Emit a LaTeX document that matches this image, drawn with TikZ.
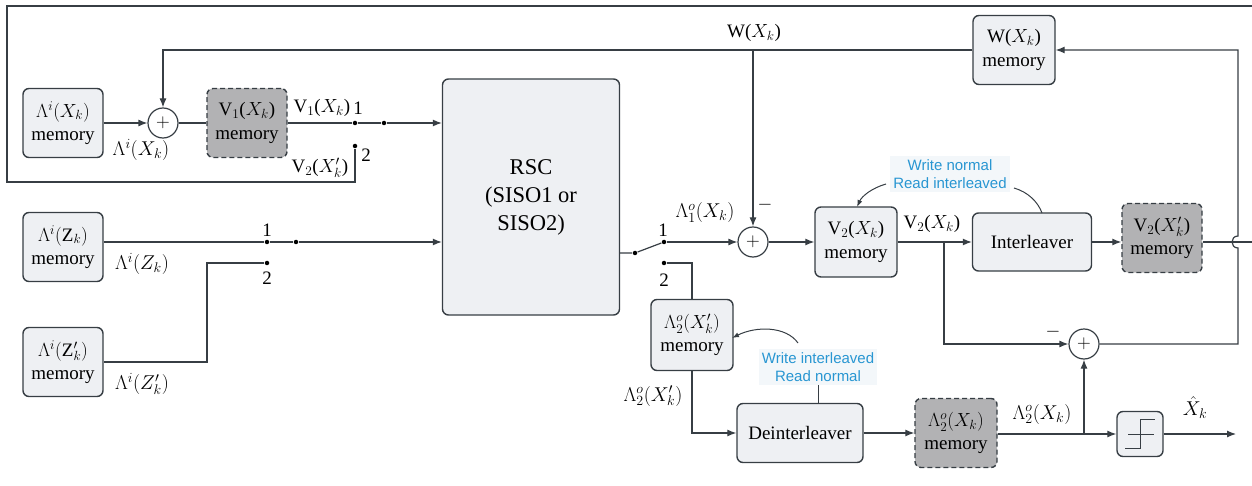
\RequirePackage{fix-cm}
\documentclass[tikz,border=0pt]{standalone}
\usepackage{fontspec}
\setmainfont{Liberation Serif}
\newfontfamily\annfont{Liberation Sans}
\usetikzlibrary{arrows.meta}
\definecolor{bordc}{RGB}{55,62,68}
\definecolor{boxfill}{RGB}{238,240,243}
\definecolor{dfill}{RGB}{178,178,180}
\definecolor{annc}{RGB}{40,150,210}
\definecolor{annbg}{RGB}{243,247,250}
\newcommand{\fsA}{\fontsize{19}{23.5}\selectfont}
\newcommand{\fsL}{\fontsize{20}{24}\selectfont}
\newcommand{\fsB}{\fontsize{22.5}{28}\selectfont}
\newcommand{\fsC}{\fontsize{15}{18}\selectfont}
\begin{document}
\begin{tikzpicture}[x=1pt,y=-1pt, line width=1.2pt, draw=bordc,
  >={Latex[length=9pt,width=7pt]},
  box/.style={draw=bordc, fill=boxfill, rounded corners=6pt, line width=1.4pt, inner sep=0pt, align=center, font=\fsA, minimum width=80pt, minimum height=69pt},
  dbox/.style={box, fill=dfill, dash pattern=on 5pt off 3pt},
  sumnode/.style={circle, draw=bordc, fill=white, line width=1.2pt, minimum size=30pt, inner sep=0pt, font=\fsA},
  dotnode/.style={circle, fill=black, minimum size=4.5pt, inner sep=0pt},
  lbl/.style={font=\fsA, inner sep=0pt},
  mlbl/.style={font=\fsL, inner sep=0pt},
  ann/.style={font=\fsC\annfont, text=annc, fill=annbg, align=center, inner sep=3pt},
  thinline/.style={line width=1pt}]
\useasboundingbox (0,0) rectangle (1252,486);

% nodes
\node[box] (mLX) at (63,123) {$\Lambda^{i}(X_k)$\\memory};
\node[sumnode] (s1) at (163,123) {$+$};
\node[dbox] (mV1) at (247,123) {V$_1$($X_k$)\\memory};
\node[dotnode] (c1a) at (355,123) {};
\node[dotnode] (p1) at (384,123) {};
\node[dotnode] (c1b) at (355,146) {};
\node[box, font=\fsB, minimum width=177pt, minimum height=236pt] (RSC) at (531,197) {RSC\\(SISO1 or\\SISO2)};

\node[box] (mLZ) at (63,247) {$\Lambda^{i}(\mathrm{Z}_k)$\\memory};
\node[dotnode] (c2a) at (267,242) {};
\node[dotnode] (p2) at (296,242) {};
\node[dotnode] (c2b) at (267,263) {};
\node[box] (mLZp) at (63,362) {$\Lambda^{i}(\mathrm{Z}'_k)$\\memory};

\node[dotnode] (p3) at (635,253) {};
\node[dotnode] (c3a) at (664,242) {};
\node[dotnode] (c3b) at (664,263) {};
\node[sumnode] (s2) at (753,242) {$+$};
\node[box, minimum width=82pt, minimum height=70pt] (mV2) at (856,242) {V$_2$($X_k$)\\memory};
\node[box, minimum width=119pt, minimum height=58pt] (inter) at (1032,242) {Interleaver};
\node[dbox] (mV2p) at (1162,238) {V$_2$($X'_k$)\\memory};
\node[box, minimum width=82pt] (mW) at (1014,50) {W($X_k$)\\memory};
\node[sumnode] (s3) at (1084,344) {$+$};

\node[box, minimum width=82pt, minimum height=71pt] (mLo2p) at (692,335) {$\Lambda^{o}_{2}(X'_k)$\\memory};
\node[box, minimum width=126pt, minimum height=59pt] (deint) at (800,433) {Deinterleaver};
\node[dbox, minimum width=82pt] (mLo2) at (956,433) {$\Lambda^{o}_{2}(X_k)$\\memory};
\node[box, minimum width=46pt, minimum height=45pt] (slicer) at (1140,434) {};
\coordinate (xout) at (1236,434);

\node[ann] (ann1) at (950,174) {Write normal\\Read interleaved};
\node[ann] (ann2) at (818,367) {Write interleaved\\Read normal};

% connectors
\draw[->] (mLX.east) -- (s1.west);
\draw (s1.east) -- (mV1.west);
\draw (mV1.east) -- (c1a);
\draw (c1a) -- (p1);
\draw[->] (p1) -- (p1 -| RSC.west);
\draw (mV2p.east |- inter.east) -- (1256,242) -- (1256,6) -- (7,6) -- (7,182) -| (c1b);
\draw[->] (mW.west) -| (s1.north);
\draw[->] (s2 |- mW.west) -- (s2.north);

\draw (mLZ.east |- c2a) -- (c2a);
\draw (c2a) -- (p2);
\draw[->] (p2) -- (p2 -| RSC.west);
\draw (c2b) -- (207,263) |- (mLZp.east);

\draw (RSC.east |- p3) -- (p3) -- (c3a);
\draw[->] (c3a) -- (s2.west);
\draw (c3b) -| (mLo2p.north);
\draw[->] (mLo2p.south) |- (deint.west);
\draw[->] (deint.east) -- (mLo2.west);
\coordinate (bp) at (s3 |- slicer.west);
\draw (mLo2.east |- bp) -- (bp);
\draw[->] (bp) -- (slicer.west);
\draw[->] (bp) -- (s3.south);
\draw[->] (slicer.east) -- (xout);

\draw[->] (s2.east) -- (mV2.west);
\draw[->] (mV2.east) -- (inter.west);
\draw[->] (inter.east) -- (inter.east -| mV2p.west);
\coordinate (bv) at (944,242);
\draw[->] (bv) |- (s3.west);
\draw[->] (s3.east) -- (1238,344) -- (1238,248) .. controls (1230,248) and (1230,236) .. (1238,236) -- (1238,50) -- (mW.east);

% annotation pointers
\draw[thinline,->,>={Latex[length=7pt,width=5pt]}] (886,184) .. controls (872,188) and (862,196) .. (857,207);
\draw[thinline] (1014,188) .. controls (1028,192) and (1038,202) .. (1042,213);
\draw[thinline,->,>={Latex[length=7pt,width=5pt]}] (798,343) .. controls (786,326) and (756,326) .. (732,338);
\draw[thinline] (ann2.south) -- (ann2.south |- deint.north);

% slicer symbol
\draw[thinline, shift={(slicer.center)}] (-12,0) -- (14,0);
\draw[thinline, shift={(slicer.center)}] (-15,14) -- (0,14) -- (0,-15) -- (15,-15);

% labels
\node[lbl] (lW) at (754,33) {W($X_k$)};
\node[lbl] (lV1) at (322,108) {V$_1$($X_k$)};
\node[lbl] (l1a) at (358,108) {1};
\node[lbl] (l1b) at (366,155) {2};
\node[lbl] (lV2p) at (320,168) {V$_2$($X'_k$)};
\node[mlbl] (lLX) at (141,150) {$\Lambda^{i}\bigl(X_k\bigr)$};
\node[mlbl] (lLZ) at (142,264) {$\Lambda^{i}\bigl(Z_k\bigr)$};
\node[lbl] (l2a) at (267,230) {1};
\node[lbl] (l2b) at (267,278) {2};
\node[mlbl] (lLZp) at (142,384) {$\Lambda^{i}\bigl(Z'_k\bigr)$};
\node[lbl] (l3a) at (663,230) {1};
\node[lbl] (l3b) at (664,280) {2};
\node[mlbl] (lLo1) at (705,213) {$\Lambda^{o}_{1}\bigl(X_k\bigr)$};
\node[lbl] (m1) at (765,205) {$-$};
\node[lbl] (lV2) at (932,224) {V$_2$($X_k$)};
\node[lbl] (m2) at (1053,332) {$-$};
\node[mlbl] (lLo2p) at (653,396) {$\Lambda^{o}_{2}\bigl(X'_k\bigr)$};
\node[mlbl] (lLo2) at (1042,414) {$\Lambda^{o}_{2}\bigl(X_k\bigr)$};
\node[mlbl] (lX) at (1195,408) {$\hat{X}_{k}$};
\end{tikzpicture}
\end{document}
